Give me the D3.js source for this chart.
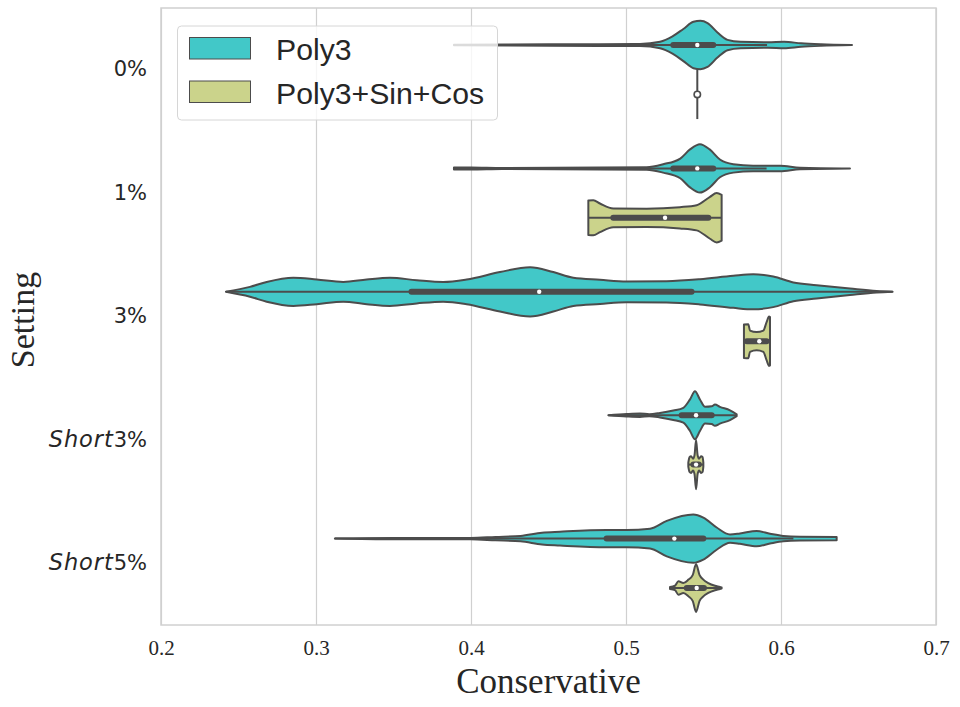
<!DOCTYPE html>
<html>
<head>
<meta charset="utf-8">
<script src="https://cdnjs.cloudflare.com/ajax/libs/d3/7.8.5/d3.min.js"></script>
<style>
  body { margin: 0; background: #fff; }
</style>
</head>
<body>
<div id="chart"></div>
<script>
// Categories, hues and ticks
const categories = ["0%", "1%", "3%", "Short3%", "Short5%"];
const hues = ["Poly3", "Poly3+Sin+Cos"];
const hueColors = ["#42c8c8", "#cbd38b"];
const xTicks = [0.2, 0.3, 0.4, 0.5, 0.6, 0.7];

// Box stats per category: [whiskerLow, q1, median, q3, whiskerHigh]
const boxPoly3 = [
  [0.389, 0.5305, 0.546, 0.5563, 0.591],
  [0.389, 0.5305, 0.546, 0.5563, 0.5907],
  [0.2419, 0.3616, 0.444, 0.5423, 0.672],
  [0.4886, 0.5359, 0.5452, 0.5553, 0.5714],
  [0.3122, 0.4875, 0.5312, 0.5499, 0.608]
];
const boxSinCos = [
  [0.546, 0.546, 0.546, 0.546, 0.546],
  [0.4757, 0.4918, 0.5252, 0.5531, 0.5617],
  [0.5761, 0.578, 0.586, 0.5907, 0.5929],
  [0.5402, 0.5435, 0.5452, 0.547, 0.5499],
  [0.5284, 0.5392, 0.5456, 0.5503, 0.5617]
];

// Violin outlines per category: [value, relative half width]
const densPoly3 = [
  [[0.389, 0.01], [0.45, 0.03], [0.509, 0.04], [0.522, 0.13], [0.530, 0.35], [0.537, 0.65],
   [0.5435, 0.94], [0.548, 0.98], [0.5526, 0.89], [0.559, 0.51], [0.5655, 0.21], [0.574, 0.13],
   [0.5916, 0.11], [0.602, 0.13], [0.6129, 0.07], [0.6258, 0.03], [0.6458, 0]],
  [[0.389, 0.04], [0.40, 0.04], [0.42, 0.02], [0.5133, 0.05], [0.524, 0.17], [0.535, 0.40],
   [0.5413, 0.77], [0.5477, 0.98], [0.554, 0.77], [0.5606, 0.36], [0.5692, 0.17], [0.582, 0.11],
   [0.5994, 0.11], [0.6123, 0.03], [0.6445, 0]],
  [[0.2419, 0], [0.2574, 0.2], [0.2682, 0.4], [0.2854, 0.57], [0.3005, 0.5], [0.3176, 0.4],
   [0.3327, 0.5], [0.3477, 0.57], [0.365, 0.47], [0.3821, 0.4], [0.3972, 0.5], [0.4187, 0.8],
   [0.4381, 1.0], [0.4531, 0.8], [0.466, 0.57], [0.4832, 0.49], [0.5004, 0.42], [0.5262, 0.43],
   [0.5477, 0.51], [0.5692, 0.65], [0.5821, 0.71], [0.595, 0.62], [0.608, 0.38], [0.623, 0.27],
   [0.6445, 0.13], [0.6617, 0.03], [0.672, 0]],
  [[0.4886, 0], [0.5004, 0.05], [0.509, 0.07], [0.515, 0.04], [0.5219, 0.09], [0.5305, 0.19],
   [0.537, 0.30], [0.5413, 0.64], [0.5445, 0.97], [0.5477, 0.64], [0.551, 0.34], [0.5553, 0.36],
   [0.5574, 0.43], [0.5606, 0.34], [0.5671, 0.2], [0.5714, 0.04]],
  [[0.3122, 0], [0.35, 0.03], [0.3997, 0.03], [0.4158, 0.07], [0.4319, 0.11], [0.4458, 0.24],
   [0.4574, 0.28], [0.4875, 0.35], [0.5004, 0.35], [0.5155, 0.40], [0.5263, 0.72], [0.5434, 0.98],
   [0.5499, 0.85], [0.5585, 0.45], [0.5671, 0.17], [0.5735, 0.21], [0.5843, 0.31], [0.5929, 0.2],
   [0.6015, 0.11], [0.6123, 0.08], [0.6359, 0.07]]
];
const densSinCos = [
  [[0.546, 1]],
  [[0.4757, 0.70], [0.4789, 0.71], [0.4832, 0.58], [0.4918, 0.38], [0.5133, 0.37], [0.5348, 0.43],
   [0.5456, 0.51], [0.5542, 0.85], [0.5585, 1.0], [0.5617, 0.93]],
  [[0.5761, 0.68], [0.5789, 0.69], [0.58, 0.43], [0.5843, 0.37], [0.5886, 0.43], [0.5907, 0.77],
   [0.5923, 1.0], [0.5929, 0.98]],
  [[0.5402, 0.08], [0.541, 0.3], [0.542, 0.34], [0.5432, 0.24], [0.5442, 0.38], [0.5452, 1.0],
   [0.5462, 0.38], [0.5472, 0.24], [0.5484, 0.34], [0.5494, 0.3], [0.5499, 0.08]],
  [[0.5284, 0.04], [0.5316, 0.09], [0.5338, 0.27], [0.537, 0.2], [0.5403, 0.34], [0.5431, 0.53],
   [0.5452, 0.97], [0.5474, 0.53], [0.5499, 0.34], [0.5531, 0.2], [0.5574, 0.09], [0.5606, 0.04],
   [0.5617, 0.02]]
];

const width = 960;
const height = 707;
const plotLeft = 161, plotRight = 936, plotTop = 8, plotBottom = 625;
const lineColor = "#4c4c4c";

const svg = d3.select("#chart")
  .append("svg")
  .attr("width", width)
  .attr("height", height);

// Scales
const x = d3.scaleLinear().domain([0.2, 0.7]).range([plotLeft, plotRight]);
const y = d3.scaleBand().domain(categories).range([plotTop, plotBottom]);
const hueScale = d3.scaleBand().domain(hues)
  .range([y.bandwidth() * 0.1, y.bandwidth() * 0.9]);
const w = d3.scaleLinear().domain([0, 1]).range([0, hueScale.bandwidth() / 2]);

// Vertical grid lines
svg.append("g")
  .attr("transform", `translate(0, ${plotBottom})`)
  .call(d3.axisBottom(x).tickValues(xTicks).tickSize(-(plotBottom - plotTop)).tickFormat(""))
  .call(g => g.select(".domain").remove())
  .call(g => g.selectAll("line").attr("stroke", "#d0d0d0").attr("stroke-width", 1.2));

// Draw violins
const area = d3.area()
  .curve(d3.curveMonotoneX)
  .x(d => x(d[0]));

function drawViolin(dens, box, cy, color) {
  const g = svg.append("g");
  if (dens.length === 1) {
    // single value: a line across the slot
    g.append("line")
      .attr("x1", x(dens[0][0])).attr("x2", x(dens[0][0]))
      .attr("y1", cy - w(1)).attr("y2", cy + w(1))
      .attr("stroke", lineColor).attr("stroke-width", 2);
    g.append("circle")
      .attr("cx", x(box[2])).attr("cy", cy).attr("r", 3.2)
      .attr("fill", "white").attr("stroke", lineColor).attr("stroke-width", 1.6);
    return;
  }
  g.append("path")
    .datum(dens)
    .attr("d", area.y0(d => cy - w(d[1])).y1(d => cy + w(d[1])))
    .attr("fill", color)
    .attr("stroke", lineColor)
    .attr("stroke-width", 2)
    .attr("stroke-linejoin", "round");
  // whisker
  g.append("line")
    .attr("x1", x(box[0])).attr("x2", x(box[4]))
    .attr("y1", cy).attr("y2", cy)
    .attr("stroke", lineColor).attr("stroke-width", 2);
  // box
  g.append("line")
    .attr("x1", x(box[1])).attr("x2", x(box[3]))
    .attr("y1", cy).attr("y2", cy)
    .attr("stroke", lineColor).attr("stroke-width", 6)
    .attr("stroke-linecap", "round");
  g.append("circle")
    .attr("cx", x(box[2])).attr("cy", cy).attr("r", 2.2)
    .attr("fill", "white");
}

categories.forEach((c, i) => {
  const c0 = y(c) + hueScale(hues[0]) + hueScale.bandwidth() / 2;
  const c1 = y(c) + hueScale(hues[1]) + hueScale.bandwidth() / 2;
  drawViolin(densPoly3[i], boxPoly3[i], c0, hueColors[0]);
  drawViolin(densSinCos[i], boxSinCos[i], c1, hueColors[1]);
});

// Frame
svg.append("rect")
  .attr("x", plotLeft).attr("y", plotTop)
  .attr("width", plotRight - plotLeft).attr("height", plotBottom - plotTop)
  .attr("fill", "none")
  .attr("stroke", "#d0d0d0")
  .attr("stroke-width", 1.5);

// X axis labels
svg.append("g")
  .attr("transform", `translate(0, ${plotBottom})`)
  .call(d3.axisBottom(x).tickValues(xTicks).tickSize(0).tickPadding(15).tickFormat(d3.format(".1f")))
  .call(g => g.select(".domain").remove())
  .call(g => g.selectAll("text")
    .attr("font-family", "'Liberation Serif', 'Times New Roman', serif")
    .attr("font-size", 21)
    .attr("fill", "#262626"));

// Y axis labels (Short in italics)
const yAxis = svg.append("g")
  .attr("transform", `translate(${plotLeft}, 0)`)
  .call(d3.axisLeft(y).tickSize(0).tickPadding(14));
yAxis.select(".domain").remove();
yAxis.selectAll("text")
  .attr("font-family", "'DejaVu Sans', sans-serif")
  .attr("font-size", 21)
  .attr("fill", "#262626")
  .each(function(d) {
    const t = d3.select(this);
    if (d.startsWith("Short")) {
      t.text("");
      t.append("tspan").attr("font-style", "italic").attr("font-size", 22.5)
        .attr("letter-spacing", 0.9).text("Short");
      t.append("tspan").text(d.slice(5));
    }
  });

// Axis titles
svg.append("text")
  .attr("x", (plotLeft + plotRight) / 2)
  .attr("y", 693)
  .attr("text-anchor", "middle")
  .attr("font-family", "'Liberation Serif', 'Times New Roman', serif")
  .attr("font-size", 35)
  .attr("fill", "#262626")
  .text("Conservative");
svg.append("text")
  .attr("transform", "rotate(-90)")
  .attr("x", -320)
  .attr("y", 34)
  .attr("text-anchor", "middle")
  .attr("font-family", "'Liberation Serif', 'Times New Roman', serif")
  .attr("font-size", 34)
  .attr("fill", "#262626")
  .text("Setting");

// Legend
const legend = svg.append("g");
legend.append("rect")
  .attr("x", 177.5).attr("y", 26)
  .attr("width", 320).attr("height", 94)
  .attr("rx", 4)
  .attr("fill", "white").attr("fill-opacity", 0.8)
  .attr("stroke", "#d6d6d6").attr("stroke-width", 1);
hues.forEach((h, i) => {
  const ly = 37.5 + i * 43.5;
  legend.append("rect")
    .attr("x", 189.5).attr("y", ly)
    .attr("width", 61).attr("height", 21.5)
    .attr("fill", hueColors[i])
    .attr("stroke", lineColor).attr("stroke-width", 1);
  legend.append("text")
    .attr("x", 276).attr("y", ly + 22.5)
    .attr("font-family", "'Liberation Sans', Arial, sans-serif")
    .attr("font-size", 30.2)
    .attr("fill", "#262626")
    .text(h);
});
</script>
</body>
</html>
